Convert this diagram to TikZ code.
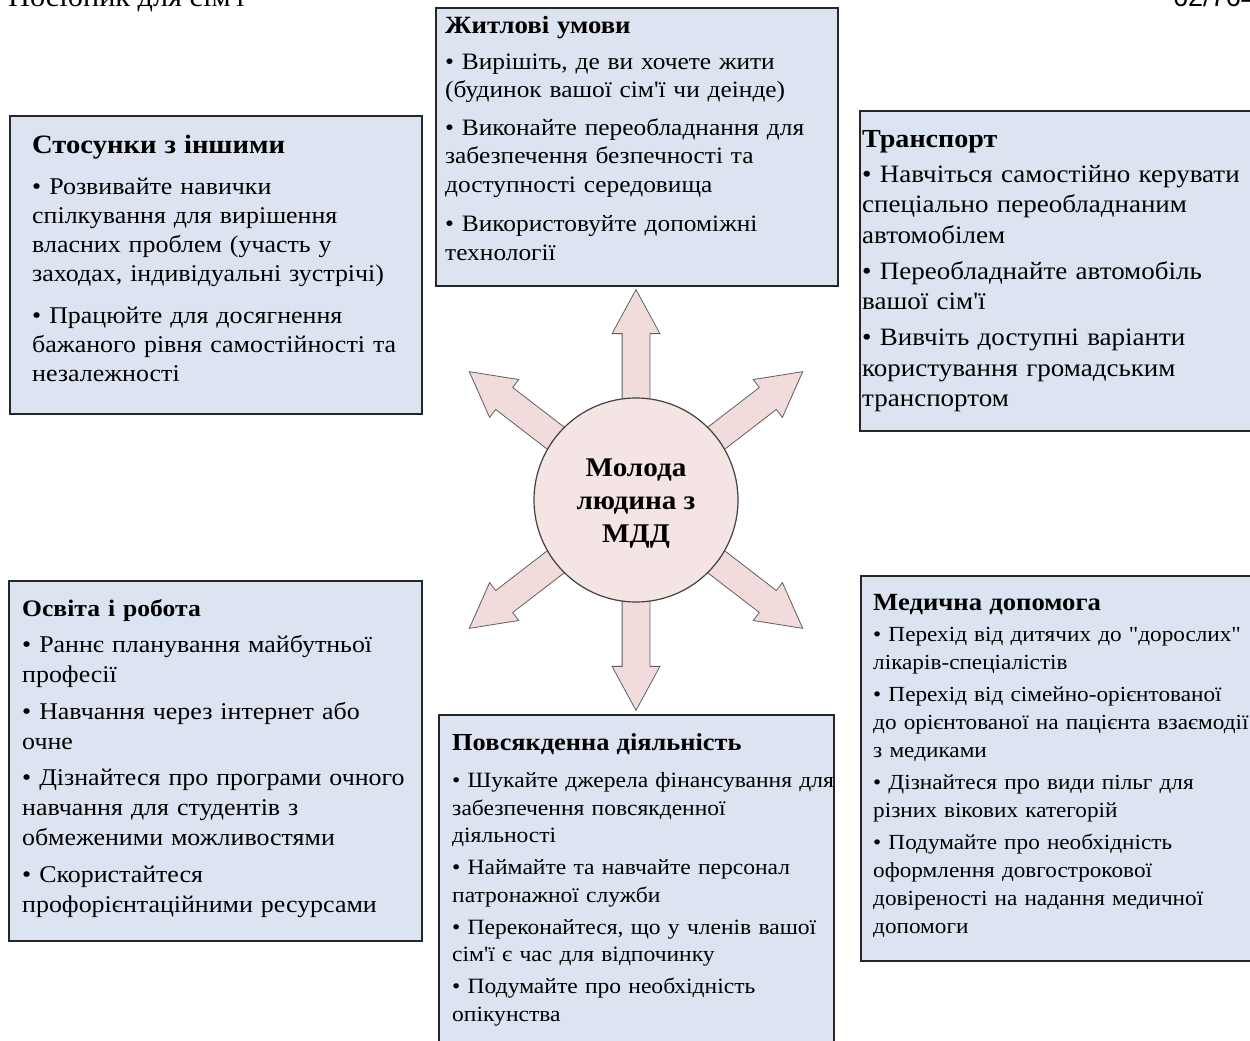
\documentclass[tikz,border=0pt]{standalone}
\usepackage{fontspec}
\setmainfont{Liberation Serif}[Ligatures=TeXOff,FakeStretch=1.08]
\newfontfamily\pagefont{Liberation Sans}
\usetikzlibrary{positioning,shapes.arrows}
\definecolor{boxfill}{RGB}{220,227,241}
\definecolor{rayfill}{RGB}{242,220,219}
\definecolor{hubfill}{RGB}{245,228,228}
\definecolor{rayline}{RGB}{95,95,95}

\begin{document}
\begin{tikzpicture}[x=1pt,y=-1pt,
	topic/.style={draw=black!85,fill=boxfill,line width=2pt,anchor=north west,inner sep=0pt},
	note/.style={anchor=north west,inner sep=0pt,text width=460pt,align=left},
	ray/.style={single arrow,draw=rayline,fill=rayfill,line width=0.8pt,minimum height=210pt,minimum width=47pt,
		single arrow head extend=10pt,single arrow tip angle=57,inner xsep=0pt,inner ysep=13.5pt,anchor=tail},
	hub/.style={circle,draw=black!75,fill=hubfill,line width=1.2pt,minimum size=204pt,inner sep=0pt}]
	\useasboundingbox (0,0) rectangle (1250,1041);
	\clip (0,0) rectangle (1250,1041);

	\node[anchor=base west,inner sep=0pt,font=\fontsize{28}{30}\selectfont] (head) at (8,7) {Посібник для сім'ї};
	\node[anchor=base west,inner sep=0pt,font=\pagefont\fontsize{27}{30}\selectfont] (page) at (1173,7) {62/764};

	\node[topic,minimum width=402pt,minimum height=278pt] (hous) at (435,7) {};
	\node[topic,minimum width=412pt,minimum height=298pt] (rel) at (9,115) {};
	\node[topic,minimum width=410pt,minimum height=320pt] (trans) at (859,110) {};
	\node[topic,minimum width=413pt,minimum height=360pt] (edu) at (8,580) {};
	\node[topic,minimum width=410pt,minimum height=385pt] (med) at (860,575) {};
	\node[topic,minimum width=395pt,minimum height=340pt] (daily) at (438,714) {};

	\node[note,font=\fontsize{23.5}{28.5}\selectfont,below right=8.7pt and 10pt of hous.north west] (hous-text) {%
		\textbf{\fontsize{24.8}{28.5}\selectfont Житлові умови}\\[7.5pt]
		• Вирішіть, де ви хочете жити\\
		(будинок вашої сім'ї чи деінде)\\[9pt]
		• Виконайте переобладнання для\\
		забезпечення безпечності та\\
		доступності середовища\\[11pt]
		• Використовуйте допоміжні\\
		технології};
	\node[note,font=\fontsize{24}{29}\selectfont,below right=20pt and 23pt of rel.north west] (rel-text) {%
		\textbf{\fontsize{26.5}{29}\selectfont Стосунки з іншими}\\[12pt]
		• Розвивайте навички\\
		спілкування для вирішення\\
		власних проблем (участь у\\
		заходах, індивідуальні зустрічі)\\[13pt]
		• Працюйте для досягнення\\
		бажаного рівня самостійності та\\
		незалежності};
	\node[note,font=\fontsize{25}{30.5}\selectfont,below right=20pt and 3pt of trans.north west] (trans-text) {%
		\textbf{\fontsize{26}{30.5}\selectfont Транспорт}\\[4.5pt]
		• Навчіться самостійно керувати\\
		спеціально переобладнаним\\
		автомобілем\\[5.5pt]
		• Переобладнайте автомобіль\\
		вашої сім'ї\\[5.5pt]
		• Вивчіть доступні варіанти\\
		користування громадським\\
		транспортом};
	\node[note,font=\fontsize{24}{30}\selectfont,below right=19.5pt and 14pt of edu.north west] (edu-text) {%
		\textbf{\fontsize{23.7}{30}\selectfont Освіта і робота}\\[6pt]
		• Раннє планування майбутньої\\
		професії\\[6.5pt]
		• Навчання через інтернет або\\
		очне\\[6.5pt]
		• Дізнайтеся про програми очного\\
		навчання для студентів з\\
		обмеженими можливостями\\[6.5pt]
		• Скористайтеся\\
		профорієнтаційними ресурсами};
	\node[note,font=\fontsize{21.5}{28}\selectfont,below right=19pt and 13pt of med.north west] (med-text) {%
		\textbf{\fontsize{24.7}{28}\selectfont Медична допомога}\\[3.5pt]
		• Перехід від дитячих до "дорослих"\\
		лікарів-спеціалістів\\[4pt]
		• Перехід від сімейно-орієнтованої\\
		до орієнтованої на пацієнта взаємодії\\
		з медиками\\[4pt]
		• Дізнайтеся про види пільг для\\
		різних вікових категорій\\[4pt]
		• Подумайте про необхідність\\
		оформлення довгострокової\\
		довіреності на надання медичної\\
		допомоги};
	\node[note,font=\fontsize{21.8}{27.5}\selectfont,below right=19pt and 14pt of daily.north west] (daily-text) {%
		\textbf{\fontsize{24.4}{27.5}\selectfont Повсякденна діяльність}\\[10pt]
		• Шукайте джерела фінансування для\\
		забезпечення повсякденної\\
		діяльності\\[4.5pt]
		• Наймайте та навчайте персонал\\
		патронажної служби\\[4.5pt]
		• Переконайтеся, що у членів вашої\\
		сім'ї є час для відпочинку\\[4.5pt]
		• Подумайте про необхідність\\
		опікунства};

	\coordinate (core) at (636,500);
	\foreach \a/\n in {90/n,142.4/nw,37.6/ne,-142.4/sw,-37.6/se,-90/s}
		\node[ray,rotate=\a] (ray-\n) at (core) {};
	\node[hub] (mdd) at (core) {};
	\node[align=center,inner sep=0pt,font=\bfseries\fontsize{27}{33}\selectfont] (mdd-text) at ([yshift=-3.5pt]mdd.center) {Молода\\людина з\\МДД};
\end{tikzpicture}
\end{document}
